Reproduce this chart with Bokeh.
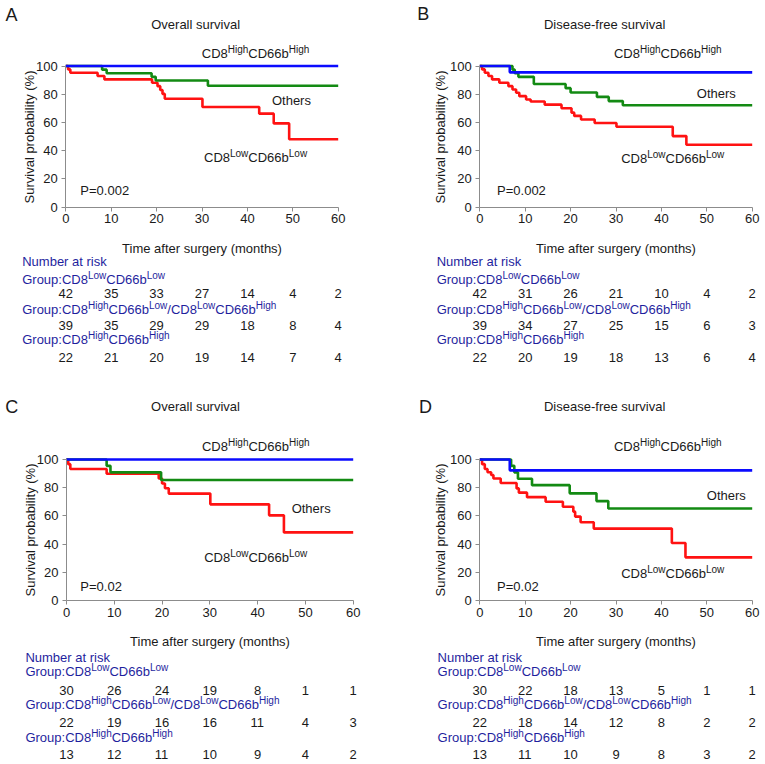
from bokeh.plotting import figure
from bokeh.models import ColumnDataSource, LabelSet, Range1d, FixedTicker
from bokeh.layouts import column, row
from bokeh.core.properties import value
from bokeh.embed import file_html
from bokeh.resources import INLINE

FONT = "Liberation Sans"

# ---------------- data ----------------
time_ticks = [0, 10, 20, 30, 40, 50, 60]
prob_ticks = [0, 20, 40, 60, 80, 100]

# Panel A: overall survival (cohort 1)
a_high_t, a_high_s = [], []
a_mid_t = [8.0, 9.0, 18.9, 19.8, 31.3]
a_mid_s = [97.4, 94.9, 92.3, 89.7, 86.0]
a_low_t = [0.5, 1.0, 7.0, 8.5, 19.0, 20.2, 20.8, 21.3, 21.8, 30.1, 42.6, 45.8, 49.2]
a_low_s = [97.6, 95.2, 92.9, 90.5, 88.1, 85.7, 83.0, 80.2, 76.8, 70.9, 66.2, 59.3, 48.0]
a_risk_low = [42, 35, 33, 27, 14, 4, 2]
a_risk_mid = [39, 35, 29, 29, 18, 8, 4]
a_risk_high = [22, 21, 20, 19, 14, 7, 4]

# Panel B: disease-free survival (cohort 1)
b_high_t, b_high_s = [6.6], [95.5]
b_mid_t = [7.2, 7.7, 8.5, 11.9, 18.9, 20.0, 25.8, 28.4, 31.5]
b_mid_s = [97.4, 94.9, 92.3, 87.2, 84.3, 81.2, 78.1, 75.1, 72.2]
b_low_t = [0.5, 1.1, 1.9, 2.7, 4.3, 6.3, 7.2, 8.0, 8.7, 10.2, 11.2, 14.3, 18.0, 20.2,
           20.8, 22.3, 25.3, 30.1, 42.5, 45.5]
b_low_s = [97.6, 95.2, 92.9, 90.5, 88.1, 85.7, 83.3, 81.0, 78.6, 76.2, 74.8, 72.6, 70.0,
           66.9, 64.6, 62.1, 59.6, 56.9, 50.3, 44.2]
b_risk_low = [42, 31, 26, 21, 10, 4, 2]
b_risk_mid = [39, 34, 27, 25, 15, 6, 3]
b_risk_high = [22, 20, 19, 18, 13, 6, 4]

# Panel C: overall survival (cohort 2)
c_high_t, c_high_s = [], []
c_mid_t = [8.4, 9.2, 19.8]
c_mid_s = [95.5, 90.9, 85.5]
c_low_t = [0.35, 0.8, 8.4, 19.3, 20.0, 20.6, 21.4, 30.1, 42.4, 45.5]
c_low_s = [96.7, 93.3, 89.9, 86.5, 83.0, 79.6, 75.8, 68.2, 60.4, 48.3]
c_risk_low = [30, 26, 24, 19, 8, 1, 1]
c_risk_mid = [22, 19, 16, 16, 11, 4, 3]
c_risk_high = [13, 12, 11, 10, 9, 4, 2]

# Panel D: disease-free survival (cohort 2)
d_high_t, d_high_s = [6.6], [92.3]
d_mid_t = [6.9, 7.6, 8.4, 11.5, 19.8, 25.7, 28.3]
d_mid_s = [95.5, 90.9, 86.4, 81.8, 76.0, 70.5, 65.2]
d_low_t = [0.5, 1.1, 1.7, 2.5, 3.0, 4.6, 8.1, 8.6, 10.4, 14.5, 18.3, 20.6, 21.0, 22.2,
           25.1, 42.3, 45.3]
d_low_s = [96.7, 93.3, 91.0, 89.0, 86.5, 83.3, 79.5, 76.5, 73.3, 70.0, 66.5, 63.0, 59.5,
           55.5, 51.0, 40.8, 30.6]
d_risk_low = [30, 22, 18, 13, 5, 1, 1]
d_risk_mid = [22, 18, 14, 12, 8, 2, 2]
d_risk_high = [13, 11, 10, 9, 8, 3, 2]

# rich-text labels: (text, is_superscript)
HIGH_HIGH = [("CD8", 0), ("High", 1), ("CD66b", 0), ("High", 1)]
LOW_LOW = [("CD8", 0), ("Low", 1), ("CD66b", 0), ("Low", 1)]
GROUP1 = [("Group:CD8", 0), ("Low", 1), ("CD66b", 0), ("Low", 1)]
GROUP2 = [("Group:CD8", 0), ("High", 1), ("CD66b", 0), ("Low", 1),
          ("/CD8", 0), ("Low", 1), ("CD66b", 0), ("High", 1)]
GROUP3 = [("Group:CD8", 0), ("High", 1), ("CD66b", 0), ("High", 1)]

# ---------------- styling helpers ----------------
BLUE, GREEN, RED = "#0b0bff", "#138a13", "#ff1212"
NAVY = "#1f1f9e"
INK = "#1a1a1a"
AXIS = "#8c8c8c"
PPU = 1.41  # px per percent

ARIAL_W = {'C': 722, 'D': 722, 'H': 722, 'G': 778, 'L': 556, 'N': 722, 'O': 778,
           'P': 667, 'i': 222, 'g': 556, 'h': 556, 'o': 556, 'w': 722, 'r': 333,
           'u': 556, 'p': 556, ':': 278, '/': 278, 'b': 556, '=': 584, '.': 278,
           'l': 222, 's': 500, 'v': 500, 'a': 556, 'e': 556, 'm': 833, 't': 278,
           'k': 500, ' ': 278, 'y': 500, 'f': 278, '-': 333, 'A': 667, 'B': 667}


def text_w(s, size):
    return sum(ARIAL_W.get(c, 556) for c in s) * size / 1000.0


def rich_rows(parts, x, y, anchor="left", size=13, sup=10, rise=5):
    widths = [text_w(t, sup if s else size) for t, s in parts]
    off = -sum(widths) / 2 if anchor == "center" else 0.0
    rows = []
    for (t, s), w in zip(parts, widths):
        rows.append((x, y, t, off, rise if s else 0, f"{sup if s else size}px"))
        off += w
    return rows


def add_labels(p, rows, color):
    src = ColumnDataSource(dict(
        x=[r[0] for r in rows], y=[r[1] for r in rows], text=[r[2] for r in rows],
        xo=[r[3] for r in rows], yo=[r[4] for r in rows], fs=[r[5] for r in rows]))
    p.add_layout(LabelSet(source=src, x="x", y="y", text="text", x_offset="xo",
                          y_offset="yo", text_font_size="fs", text_font=value(FONT),
                          text_color=color, text_align="left",
                          text_baseline="alphabetic"))


def make_panel(g, letter, letter_pos, title, title_pos, curves, risks, annos, pval,
               pval_pos, table_x, table_rows_px):
    # the frame fills the whole figure; axes sit at fixed locations (0 months, 0 %)
    ppm = g["span"] / 60.0
    xr = Range1d(-g["x0"] / ppm, (g["w"] - g["x0"]) / ppm)
    yr = Range1d((g["y0"] - g["h"]) / PPU, g["y0"] / PPU)
    p = figure(width=g["w"], height=g["h"], x_range=xr, y_range=yr,
               output_backend="svg", toolbar_location=None,
               min_border_left=0, min_border_right=0, min_border_top=0,
               min_border_bottom=0)
    p.outline_line_color = None
    p.grid.visible = False

    for t, s, color in curves:
        xs = [0] + list(t) + [60]
        ys = [100] + list(s) + [s[-1] if s else 100]
        p.step(xs, ys, mode="after", line_color=color, line_width=2.6)

    for ax in (p.xaxis[0], p.yaxis[0]):
        ax.fixed_location = 0
        ax.axis_line_color = AXIS
        ax.major_tick_line_color = AXIS
        ax.minor_tick_line_color = None
        ax.major_tick_out = 4
        ax.major_tick_in = 0
        ax.major_label_text_font = FONT
        ax.major_label_text_font_size = "13px"
        ax.major_label_text_color = INK
        ax.axis_label_text_font = FONT
        ax.axis_label_text_font_size = "13px"
        ax.axis_label_text_font_style = "normal"
        ax.axis_label_text_color = INK
    p.xaxis.ticker = FixedTicker(ticks=time_ticks)
    p.yaxis.ticker = FixedTicker(ticks=prob_ticks)
    p.xaxis.bounds = (0, 60)
    p.yaxis.bounds = (0, 100)
    p.xaxis.axis_label = "Time after surgery (months)"
    p.yaxis.axis_label = "Survival probability (%)"
    p.xaxis.major_label_standoff = 3
    p.xaxis.axis_label_standoff = 14
    p.yaxis.major_label_standoff = 4
    p.yaxis.axis_label_standoff = g["ylab_standoff"]

    black = []
    black += rich_rows([(letter, 0)], letter_pos[0], letter_pos[1], size=18)
    black += rich_rows([(title, 0)], title_pos[0], title_pos[1], anchor="center")
    for parts, (ax_, ay_) in annos:
        black += rich_rows(parts, ax_, ay_, anchor="center")
    black += rich_rows([(pval, 0)], pval_pos[0], pval_pos[1])

    ys = [-d / PPU for d in table_rows_px]
    navy = []
    navy += rich_rows([("Number at risk", 0)], table_x, ys[0])
    navy += rich_rows(GROUP1, table_x, ys[1])
    navy += rich_rows(GROUP2, table_x, ys[3])
    navy += rich_rows(GROUP3, table_x, ys[5])
    for risk, yy in zip(risks, (ys[2], ys[4], ys[6])):
        for tt, n in zip(time_ticks, risk):
            black += rich_rows([(str(n), 0)], tt, yy, anchor="center")

    add_labels(p, black, INK)
    add_labels(p, navy, NAVY)
    return p


# table baselines, px below the time axis
TOP_ROWS = [59.2, 76.8, 90.8, 106.8, 122.5, 136.8, 154.5]
BOT_ROWS = [61.0, 75.7, 94.3, 108.3, 126.7, 141.0, 158.5]

# x0 / y0: pixel position of (0 months, 0 %) inside each figure; span: px for 60 months
gA = dict(w=380, h=376, x0=65.3, span=272.4, y0=206.5, ylab_standoff=-4)
gB = dict(w=384, h=376, x0=99.3, span=272.4, y0=206.5, ylab_standoff=-1)
gC = dict(w=380, h=387, x0=66.0, span=286.7, y0=224.0, ylab_standoff=-4)
gD = dict(w=384, h=387, x0=99.3, span=272.4, y0=224.0, ylab_standoff=-1)

pA = make_panel(gA, "A", (-13.3, 131.6), "Overall survival", (28.6, 126.4),
                [(a_low_t, a_low_s, RED), (a_mid_t, a_mid_s, GREEN), (a_high_t, a_high_s, BLUE)],
                [a_risk_low, a_risk_mid, a_risk_high],
                [(HIGH_HIGH, (41.8, 105.8)), ([("Others", 0)], (49.7, 72.0)),
                 (LOW_LOW, (41.8, 31.8))],
                "P=0.002", (3.2, 8.2), -9.6, TOP_ROWS)

pB = make_panel(gB, "B", (-13.8, 132.8), "Disease-free survival", (27.5, 126.4),
                [(b_low_t, b_low_s, RED), (b_mid_t, b_mid_s, GREEN), (b_high_t, b_high_s, BLUE)],
                [b_risk_low, b_risk_mid, b_risk_high],
                [(HIGH_HIGH, (41.4, 105.8)), ([("Others", 0)], (52.1, 77.2)),
                 (LOW_LOW, (42.5, 31.3))],
                "P=0.002", (3.8, 8.2), -9.5, TOP_ROWS)

pC = make_panel(gC, "C", (-12.8, 132.8), "Overall survival", (27.0, 134.3),
                [(c_low_t, c_low_s, RED), (c_mid_t, c_mid_s, GREEN), (c_high_t, c_high_s, BLUE)],
                [c_risk_low, c_risk_mid, c_risk_high],
                [(HIGH_HIGH, (39.6, 105.9)), ([("Others", 0)], (51.2, 62.2)),
                 (LOW_LOW, (39.6, 27.2))],
                "P=0.02", (2.9, 6.6), -8.6, BOT_ROWS)

pD = make_panel(gD, "D", (-13.4, 132.8), "Disease-free survival", (27.5, 134.3),
                [(d_low_t, d_low_s, RED), (d_mid_t, d_mid_s, GREEN), (d_high_t, d_high_s, BLUE)],
                [d_risk_low, d_risk_mid, d_risk_high],
                [(HIGH_HIGH, (41.4, 105.9)), ([("Others", 0)], (54.3, 71.4)),
                 (LOW_LOW, (42.5, 16.1))],
                "P=0.02", (3.8, 6.6), -9.3, BOT_ROWS)

layout = column(row(pA, pB, spacing=0), row(pC, pD, spacing=0), spacing=0)
open("out.html", "w").write(file_html(layout, INLINE))
